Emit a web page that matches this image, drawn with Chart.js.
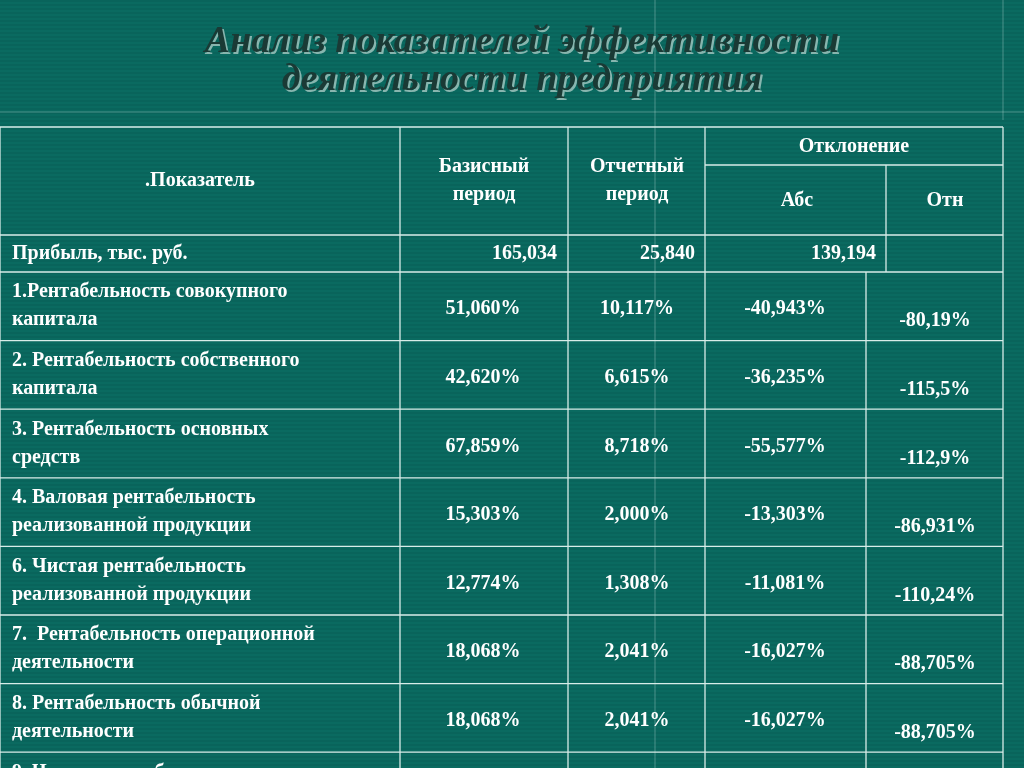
<!DOCTYPE html>
<html>
<head>
<meta charset="utf-8">
<script src="https://cdn.jsdelivr.net/npm/chart.js@4"></script>
<style>
  html, body { margin: 0; padding: 0; background: #0a6a60; }
  #wrap { width: 1024px; height: 768px; position: relative; }
</style>
</head>
<body>
<div id="wrap"><canvas id="tableChart"></canvas></div>
<script>
// table data
var titleLines = ['Анализ показателей эффективности', 'деятельности предприятия'];
var headers = ['.Показатель', 'Базисный|период', 'Отчетный|период', 'Отклонение', 'Абс', 'Отн'];
var profitRow = ['Прибыль, тыс. руб.', '165,034', '25,840', '139,194'];
var indicators = [
    '1.Рентабельность совокупного|капитала',
    '2. Рентабельность собственного|капитала',
    '3. Рентабельность основных|средств',
    '4. Валовая рентабельность|реализованной продукции',
    '6. Чистая рентабельность|реализованной продукции',
    '7.  Рентабельность операционной|деятельности',
    '8. Рентабельность обычной|деятельности',
    '9. Чистая рентабельность|'
];
var baseValues = ['51,060%', '42,620%', '67,859%', '15,303%', '12,774%', '18,068%', '18,068%', '15,081%'];
var reportValues = ['10,117%', '6,615%', '8,718%', '2,000%', '1,308%', '2,041%', '2,041%', '1,334%'];
var absValues = ['-40,943%', '-36,235%', '-55,577%', '-13,303%', '-11,081%', '-16,027%', '-16,027%', '-13,416%'];
var relValues = ['-80,19%', '-115,5%', '-112,9%', '-86,931%', '-110,24%', '-88,705%', '-88,705%', '-108,85%'];

// layout in slide coordinates
var colX = [0, 400, 568, 705, 1003];
var headTop = 127, subHead = 165, headBottom = 235, profitBottom = 272, rowH = 68.6;

var rowTops = [];
for (var i = 0; i <= indicators.length; i++) rowTops.push(profitBottom + i * rowH);

var cellPoints = [];
indicators.forEach(function (t, i) {
    var cy = rowTops[i] + rowH / 2;
    cellPoints.push({ x: 12, y: cy, text: t, align: 'left' });
    cellPoints.push({ x: 483, y: cy + 3, text: baseValues[i], align: 'center' });
    cellPoints.push({ x: 637, y: cy + 3, text: reportValues[i], align: 'center' });
    cellPoints.push({ x: 785, y: cy + 3, text: absValues[i], align: 'center' });
    cellPoints.push({ x: 935, y: cy + 15, text: relValues[i], align: 'center' });
});
var profitY = (headBottom + profitBottom) / 2;
cellPoints.push({ x: 12, y: profitY, text: profitRow[0], align: 'left' });
cellPoints.push({ x: 557, y: profitY, text: profitRow[1], align: 'right' });
cellPoints.push({ x: 695, y: profitY, text: profitRow[2], align: 'right' });
cellPoints.push({ x: 876, y: profitY, text: profitRow[3], align: 'right' });
cellPoints.push({ x: 200, y: 181, text: headers[0], align: 'center' });
cellPoints.push({ x: 484, y: 181, text: headers[1], align: 'center' });
cellPoints.push({ x: 637, y: 181, text: headers[2], align: 'center' });
cellPoints.push({ x: 854, y: 147, text: headers[3], align: 'center' });
cellPoints.push({ x: 797, y: 201, text: headers[4], align: 'center' });
cellPoints.push({ x: 945, y: 201, text: headers[5], align: 'center' });

var tablePlugin = {
    id: 'tablePlugin',
    beforeDraw: function (chart) {
        var ctx = chart.ctx, sx = chart.scales.x, sy = chart.scales.y;
        function X(v) { return sx.getPixelForValue(v); }
        function Y(v) { return sy.getPixelForValue(v); }
        ctx.save();
        ctx.fillStyle = '#0a6a60';
        ctx.fillRect(0, 0, chart.width, chart.height);
        // faint stripes
        ctx.fillStyle = 'rgba(0,0,0,0.05)';
        for (var s = 0; s < 768; s += 4) ctx.fillRect(0, Y(s), chart.width, 2);
        // decorative lines
        ctx.strokeStyle = 'rgba(200,230,225,0.35)';
        ctx.lineWidth = 1;
        [[655, 0, 655, 768], [1003, 0, 1003, 120], [0, 112, 1024, 112]].forEach(function (l) {
            ctx.beginPath(); ctx.moveTo(X(l[0]), Y(l[1])); ctx.lineTo(X(l[2]), Y(l[3])); ctx.stroke();
        });
        // title
        ctx.font = 'italic bold 38px "Liberation Serif", serif';
        ctx.textAlign = 'center';
        ctx.textBaseline = 'middle';
        titleLines.forEach(function (t, i) {
            ctx.fillStyle = 'rgba(190,215,210,0.7)';
            ctx.fillText(t, X(522) + 2, Y(42 + i * 38) + 2);
            ctx.fillStyle = '#1a3a35';
            ctx.fillText(t, X(522), Y(42 + i * 38));
        });
        // grid
        ctx.strokeStyle = '#d8ece8';
        ctx.lineWidth = 1.3;
        function line(x1, y1, x2, y2) {
            ctx.beginPath(); ctx.moveTo(X(x1), Y(y1)); ctx.lineTo(X(x2), Y(y2)); ctx.stroke();
        }
        line(0, headTop, 1003, headTop);
        line(705, subHead, 1003, subHead);
        line(0, headBottom, 1003, headBottom);
        rowTops.forEach(function (y) { line(0, y, 1003, y); });
        colX.forEach(function (x) { line(x, headTop, x, 768); });
        line(886, subHead, 886, profitBottom);
        line(866, profitBottom, 866, 768);
        ctx.restore();
    },
    afterDatasetsDraw: function (chart) {
        var ctx = chart.ctx, sx = chart.scales.x, sy = chart.scales.y;
        ctx.save();
        ctx.fillStyle = '#ffffff';
        ctx.font = 'bold 20px "Liberation Serif", serif';
        ctx.textBaseline = 'middle';
        chart.data.datasets[0].data.forEach(function (p) {
            var lines = p.text.split('|');
            ctx.textAlign = p.align;
            var x = sx.getPixelForValue(p.x);
            lines.forEach(function (t, i) {
                var y = sy.getPixelForValue(p.y + (i - (lines.length - 1) / 2) * 28);
                ctx.fillText(t, x, y);
            });
        });
        ctx.restore();
    }
};

new Chart(document.getElementById('tableChart'), {
    type: 'scatter',
    data: { datasets: [{ data: cellPoints, pointRadius: 0 }] },
    options: {
        responsive: true,
        maintainAspectRatio: false,
        animation: false,
        layout: { padding: 0 },
        plugins: { legend: { display: false }, tooltip: { enabled: false } },
        scales: {
            x: { type: 'linear', min: 0, max: 1024, display: false },
            y: { type: 'linear', min: 0, max: 768, reverse: true, display: false }
        }
    },
    plugins: [tablePlugin]
});
</script>
</body>
</html>
